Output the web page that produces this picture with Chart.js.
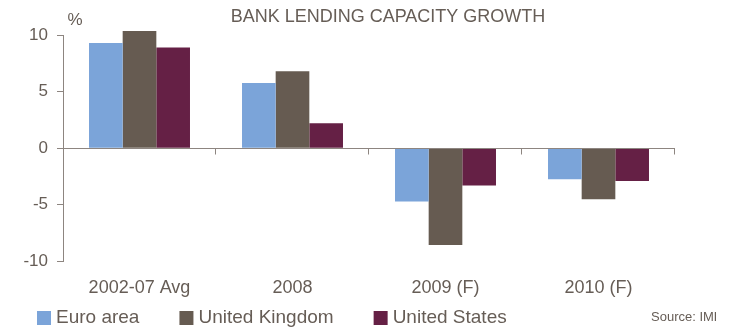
<!DOCTYPE html>
<html>
<head>
<meta charset="utf-8">
<script src="https://cdn.jsdelivr.net/npm/chart.js@4.4.1/dist/chart.umd.min.js"></script>
<style>
  html, body { margin: 0; padding: 0; background: #fff; }
  #wrap { width: 735px; height: 329px; }
</style>
</head>
<body>
<div id="wrap"><canvas id="myChart" width="735" height="329"></canvas></div>
<script>
'use strict';
const periods = ['2002-07 Avg', '2008', '2009 (F)', '2010 (F)'];
const seriesNames = ['Euro area', 'United Kingdom', 'United States'];
const euroArea = [9.3, 5.75, -4.7, -2.75];
const unitedKingdom = [10.35, 6.8, -8.55, -4.5];
const unitedStates = [8.9, 2.2, -3.3, -2.9];
const yTicks = [-10, -5, 0, 5, 10];

const titleText = 'BANK LENDING CAPACITY GROWTH';
const unitText = '%';
const sourceText = 'Source: IMF';

const colors = ['#7ba4d9', '#665b51', '#652045'];
const textColor = '#665d56';
const axisColor = '#8d8580';
const fontFamily = 'Arial, "Liberation Sans", sans-serif';

/* zero line with the small category ticks hanging under it */
const zeroLine = {
  id: 'zeroLine',
  afterDatasetsDraw(chart) {
    const ctx = chart.ctx;
    const x = chart.scales.x;
    const y0 = Math.round(chart.scales.y.getPixelForValue(0)) + 0.5;
    const step = (x.right - x.left) / periods.length;
    ctx.save();
    ctx.strokeStyle = axisColor;
    ctx.lineWidth = 1;
    ctx.beginPath();
    ctx.moveTo(x.left, y0);
    ctx.lineTo(x.right, y0);
    for (let i = 1; i <= periods.length; i++) {
      const px = Math.round(x.left + step * i) - 0.5;
      ctx.moveTo(px, y0);
      ctx.lineTo(px, y0 + 6);
    }
    ctx.stroke();
    ctx.restore();
  }
};

/* title, unit, legend and source line */
const extras = {
  id: 'extras',
  afterDraw(chart) {
    const ctx = chart.ctx;
    ctx.save();
    ctx.fillStyle = textColor;
    ctx.textBaseline = 'middle';

    ctx.font = '18px ' + fontFamily;
    ctx.textAlign = 'center';
    ctx.fillText(titleText, 388, 17.5);
    ctx.font = '17px ' + fontFamily;
    ctx.fillText(unitText, 75, 20);

    // legend
    ctx.font = '19px ' + fontFamily;
    ctx.textAlign = 'left';
    let lx = 37;
    const ly = 318;
    chart.data.datasets.forEach((ds) => {
      ctx.fillStyle = ds.backgroundColor;
      ctx.fillRect(lx, ly - 7, 14, 14);
      ctx.fillStyle = textColor;
      ctx.fillText(ds.label, lx + 19, ly);
      lx += 19 + ctx.measureText(ds.label).width + 40;
    });

    // source, cut off at the right edge of the box
    ctx.beginPath();
    ctx.rect(0, 0, 716, chart.height);
    ctx.clip();
    ctx.font = '13px ' + fontFamily;
    ctx.fillText(sourceText, 651, 317);
    ctx.restore();
  }
};

const ctx = document.getElementById('myChart').getContext('2d');
const chart = new Chart(ctx, {
  type: 'bar',
  data: {
    labels: periods,
    datasets: [
      { label: seriesNames[0], data: euroArea, backgroundColor: colors[0] },
      { label: seriesNames[1], data: unitedKingdom, backgroundColor: colors[1] },
      { label: seriesNames[2], data: unitedStates, backgroundColor: colors[2] }
    ]
  },
  options: {
    responsive: false,
    animation: false,
    layout: { padding: { top: 35, right: 60, bottom: 14, left: 0 } },
    datasets: {
      bar: { categoryPercentage: 0.66, barPercentage: 1, clip: false, borderWidth: 0 }
    },
    plugins: {
      legend: { display: false },
      title: { display: false },
      tooltip: { enabled: false }
    },
    scales: {
      x: {
        grid: { display: false, drawTicks: false },
        border: { display: false },
        ticks: {
          color: textColor,
          padding: 16,
          maxRotation: 0,
          font: { family: fontFamily, size: 18 }
        }
      },
      y: {
        min: -10,
        max: 10,
        afterFit(scale) { scale.width = 63; },
        afterBuildTicks(scale) { scale.ticks = yTicks.map(v => ({ value: v })); },
        grid: {
          display: true,
          drawOnChartArea: false,
          drawTicks: true,
          tickLength: 6,
          color: axisColor,
          lineWidth: 1
        },
        border: { display: true, color: axisColor, width: 1 },
        ticks: {
          color: textColor,
          padding: 9,
          font: { family: fontFamily, size: 17 }
        }
      }
    }
  },
  plugins: [zeroLine, extras]
});
</script>
</body>
</html>
